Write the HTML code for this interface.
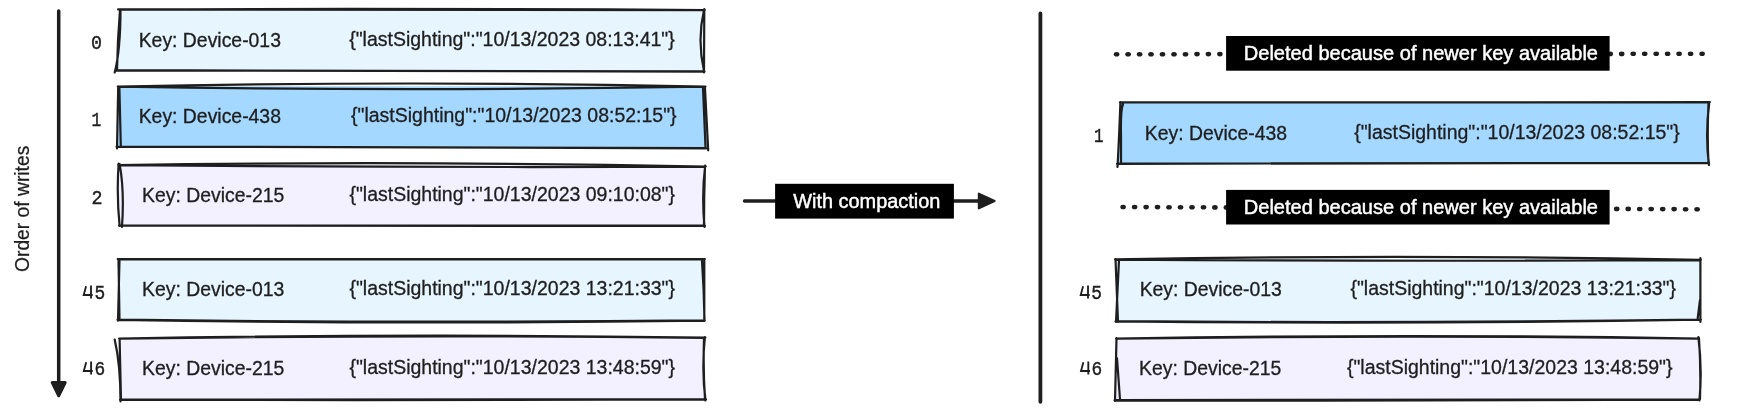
<!DOCTYPE html><html><head><meta charset="utf-8"><style>html,body{margin:0;padding:0;background:#fff;overflow:hidden}svg{display:block;will-change:transform}</style></head><body><svg width="1755" height="411" viewBox="0 0 1755 411">
<style>text{font-family:"Liberation Sans",sans-serif}.m{font-family:"Liberation Mono",monospace}</style>
<rect width="1755" height="411" fill="#ffffff"/>
<path d="M58.7 11 L58.7 384" stroke="#1e1e1e" stroke-width="3.5" stroke-linecap="round" fill="none"/>
<path d="M52.2 382.6 L65.2 382.6 L58.7 395.8 Z" fill="#1e1e1e" stroke="#1e1e1e" stroke-width="3" stroke-linejoin="round"/>
<text transform="translate(29.2,272) rotate(-90)" font-size="20.5" fill="#1e1e1e" stroke="#1e1e1e" stroke-width="0.25" textLength="126.3" lengthAdjust="spacingAndGlyphs">Order of writes</text>
<path d="M118.6 9.4Q411.4 9.2 704.3 10.0L704 71.6Q410.0 71.3 116 70.4Z" fill="#e7f5ff"/>
<path d="M118.1 9.4Q411.4 8.3 704.8 10.0M119.1 9.6Q411.4 10.1 704.3 10.2M115.5 70.4Q410.0 71.0 704.5 71.6M116.5 70.2Q410.0 71.6 704 71.39999999999999M120.5 9.5Q120.5 50 114.7 72.5M120 10Q117.5 40 117 70.5M704.3 9L704 72.5M704 10Q697 40 704 71" fill="none" stroke="#1e1e1e" stroke-width="2.2" stroke-linecap="round" stroke-linejoin="round"/>
<text class="t" x="138.70" y="46.9" font-size="19.3" fill="#1e1e1e" stroke="#1e1e1e" stroke-width="0.3" textLength="142.25" lengthAdjust="spacingAndGlyphs">Key: Device-013</text>
<text class="t" x="349.20" y="46.0" font-size="19.3" fill="#1e1e1e" stroke="#1e1e1e" stroke-width="0.3" textLength="325.60" lengthAdjust="spacingAndGlyphs">{&quot;lastSighting&quot;:&quot;10/13/2023 08:13:41&quot;}</text>
<text class="m" x="91.10" y="48.9" font-size="20.8" stroke="#1e1e1e" stroke-width="0.45" fill="#1e1e1e" textLength="11.00" lengthAdjust="spacingAndGlyphs">0</text>
<path d="M118.2 86.5Q411.6 86.0 705 86.5L706 148.3Q411.5 147.0 117 146.8Z" fill="#a5d8ff"/>
<path d="M117.7 86.5Q411.6 80.5 705.5 86.5M118.7 86.7Q411.6 91.5 705 86.7M116.5 146.8Q411.5 146.4 706.5 148.3M117.5 146.60000000000002Q411.5 147.6 706 148.10000000000002M118.2 86.3L117 148.5M119.4 88L120.8 145.5M704.9 86.7L708.2 150.3M703 88L705.5 147" fill="none" stroke="#1e1e1e" stroke-width="2.2" stroke-linecap="round" stroke-linejoin="round"/>
<text class="t" x="138.70" y="122.6" font-size="19.3" fill="#1e1e1e" stroke="#1e1e1e" stroke-width="0.3" textLength="142.25" lengthAdjust="spacingAndGlyphs">Key: Device-438</text>
<text class="t" x="351.00" y="121.9" font-size="19.3" fill="#1e1e1e" stroke="#1e1e1e" stroke-width="0.3" textLength="325.60" lengthAdjust="spacingAndGlyphs">{&quot;lastSighting&quot;:&quot;10/13/2023 08:52:15&quot;}</text>
<text class="m" x="91.40" y="125.8" font-size="20.8" stroke="#1e1e1e" stroke-width="0.45" fill="#1e1e1e" textLength="9.80" lengthAdjust="spacingAndGlyphs">1</text>
<path d="M118.6 165Q411.9 164.2 705.2 166.5L704.5 225.9Q412.1 226.1 119.6 225.7Z" fill="#f3f0ff"/>
<path d="M118.1 165Q411.9 160.8 705.7 166.5M119.1 165.2Q411.9 167.8 705.2 166.7M119.1 225.7Q412.1 225.8 705.0 225.9M120.1 225.5Q412.1 226.4 704.5 225.70000000000002M118.6 163.7Q116.5 195 119.6 225.9M119.6 164Q124.5 190 122 227M705.2 165.5Q701.5 195 704.5 227M705 166Q704 196 704 226" fill="none" stroke="#1e1e1e" stroke-width="2.2" stroke-linecap="round" stroke-linejoin="round"/>
<text class="t" x="142.05" y="201.9" font-size="19.3" fill="#1e1e1e" stroke="#1e1e1e" stroke-width="0.3" textLength="142.25" lengthAdjust="spacingAndGlyphs">Key: Device-215</text>
<text class="t" x="349.40" y="200.8" font-size="19.3" fill="#1e1e1e" stroke="#1e1e1e" stroke-width="0.3" textLength="325.60" lengthAdjust="spacingAndGlyphs">{&quot;lastSighting&quot;:&quot;10/13/2023 09:10:08&quot;}</text>
<text class="m" x="91.40" y="203.8" font-size="20.8" stroke="#1e1e1e" stroke-width="0.45" fill="#1e1e1e" textLength="11.00" lengthAdjust="spacingAndGlyphs">2</text>
<path d="M118.2 259.1Q411.2 259.4 704.3 259.2L704.3 320.6Q411.1 324.0 118 319.8Z" fill="#e7f5ff"/>
<path d="M117.7 259.1Q411.2 259.1 704.8 259.2M118.7 259.3Q411.2 259.8 704.3 259.4M117.5 319.8Q411.1 324.6 704.8 320.6M118.5 319.6Q411.1 323.4 704.3 320.40000000000003M119.5 259.5L118 320.7M118.5 260L119.5 320M704.3 259L704.3 321M702 261Q704 290 704.5 320" fill="none" stroke="#1e1e1e" stroke-width="2.2" stroke-linecap="round" stroke-linejoin="round"/>
<text class="t" x="142.05" y="295.9" font-size="19.3" fill="#1e1e1e" stroke="#1e1e1e" stroke-width="0.3" textLength="142.25" lengthAdjust="spacingAndGlyphs">Key: Device-013</text>
<text class="t" x="349.40" y="294.8" font-size="19.3" fill="#1e1e1e" stroke="#1e1e1e" stroke-width="0.3" textLength="325.60" lengthAdjust="spacingAndGlyphs">{&quot;lastSighting&quot;:&quot;10/13/2023 13:21:33&quot;}</text>
<path d="M86.1 286.3L83.7 295.0L92.7 295.0M91.0 285.5L91.0 298.4" fill="none" stroke="#1e1e1e" stroke-width="1.85" stroke-linecap="butt" stroke-linejoin="miter"/>
<text class="m" x="94.40" y="298.9" font-size="20.8" stroke="#1e1e1e" stroke-width="0.45" fill="#1e1e1e" textLength="10.70" lengthAdjust="spacingAndGlyphs">5</text>
<path d="M119.6 338.5Q412.2 333.9 704.9 337.6L705.5 399.4Q413.0 400.3 120.5 399.8Z" fill="#f3f0ff"/>
<path d="M119.1 338.5Q412.2 333.4 705.4 337.6M120.1 338.7Q412.2 334.4 704.9 337.8M120.0 399.8Q413.0 400.6 706.0 399.4M121.0 399.6Q413.0 400.0 705.5 399.2M114.7 339.6Q120.5 365 120.5 401.5M119.6 339L121 400M704.9 337Q701.5 370 705.5 400.5M704 338Q703 370 705 399" fill="none" stroke="#1e1e1e" stroke-width="2.2" stroke-linecap="round" stroke-linejoin="round"/>
<text class="t" x="142.05" y="374.6" font-size="19.3" fill="#1e1e1e" stroke="#1e1e1e" stroke-width="0.3" textLength="142.25" lengthAdjust="spacingAndGlyphs">Key: Device-215</text>
<text class="t" x="349.40" y="373.9" font-size="19.3" fill="#1e1e1e" stroke="#1e1e1e" stroke-width="0.3" textLength="325.60" lengthAdjust="spacingAndGlyphs">{&quot;lastSighting&quot;:&quot;10/13/2023 13:48:59&quot;}</text>
<path d="M86.2 362.3L83.8 371.0L92.8 371.0M91.1 361.5L91.1 374.4" fill="none" stroke="#1e1e1e" stroke-width="1.85" stroke-linecap="butt" stroke-linejoin="miter"/>
<text class="m" x="94.40" y="374.9" font-size="20.8" stroke="#1e1e1e" stroke-width="0.45" fill="#1e1e1e" textLength="10.70" lengthAdjust="spacingAndGlyphs">6</text>
<path d="M1120.4 102.3Q1414.8 102.5 1709.3 102.2L1708.7 163.0Q1413.1 163.7 1117.5 163.8Z" fill="#a5d8ff"/>
<path d="M1119.9 102.3Q1414.8 102.2 1709.8 102.2M1120.9 102.5Q1414.8 102.8 1709.3 102.4M1117.0 163.8Q1413.1 163.4 1709.2 163.0M1118.0 163.60000000000002Q1413.1 164.0 1708.7 162.8M1120.4 102Q1119.5 130 1117.5 167M1123 104Q1120.5 110 1121 135L1121 163.5M1709.3 102Q1705 135 1709 165M1708.5 103Q1707 135 1708.5 163" fill="none" stroke="#1e1e1e" stroke-width="2.2" stroke-linecap="round" stroke-linejoin="round"/>
<text class="t" x="1144.75" y="139.6" font-size="19.3" fill="#1e1e1e" stroke="#1e1e1e" stroke-width="0.3" textLength="142.25" lengthAdjust="spacingAndGlyphs">Key: Device-438</text>
<text class="t" x="1354.20" y="138.7" font-size="19.3" fill="#1e1e1e" stroke="#1e1e1e" stroke-width="0.3" textLength="325.60" lengthAdjust="spacingAndGlyphs">{&quot;lastSighting&quot;:&quot;10/13/2023 08:52:15&quot;}</text>
<text class="m" x="1094.10" y="141.9" font-size="20.8" stroke="#1e1e1e" stroke-width="0.45" fill="#1e1e1e" textLength="9.50" lengthAdjust="spacingAndGlyphs">1</text>
<path d="M1115.5 259.4Q1408.0 257.8 1700.4 259.9L1700.4 319.7Q1408.2 324.0 1116 321.4Z" fill="#e7f5ff"/>
<path d="M1115.0 259.4Q1408.0 254.0 1700.9 259.9M1116.0 259.59999999999997Q1408.0 261.6 1700.4 260.09999999999997M1115.5 321.4Q1408.2 324.5 1700.9 319.7M1116.5 321.2Q1408.2 323.5 1700.4 319.5M1115.5 259L1118 322M1119 260L1116 322M1700.4 258L1700.4 322M1700 300L1697.5 320" fill="none" stroke="#1e1e1e" stroke-width="2.2" stroke-linecap="round" stroke-linejoin="round"/>
<text class="t" x="1139.65" y="295.9" font-size="19.3" fill="#1e1e1e" stroke="#1e1e1e" stroke-width="0.3" textLength="142.25" lengthAdjust="spacingAndGlyphs">Key: Device-013</text>
<text class="t" x="1350.40" y="294.8" font-size="19.3" fill="#1e1e1e" stroke="#1e1e1e" stroke-width="0.3" textLength="325.60" lengthAdjust="spacingAndGlyphs">{&quot;lastSighting&quot;:&quot;10/13/2023 13:21:33&quot;}</text>
<path d="M1083.1 286.3L1080.7 295.0L1089.7 295.0M1088.0 285.5L1088.0 298.4" fill="none" stroke="#1e1e1e" stroke-width="1.85" stroke-linecap="butt" stroke-linejoin="miter"/>
<text class="m" x="1091.30" y="298.9" font-size="20.8" stroke="#1e1e1e" stroke-width="0.45" fill="#1e1e1e" textLength="10.70" lengthAdjust="spacingAndGlyphs">5</text>
<path d="M1116.5 338.5Q1407.5 334.0 1698.4 338.5L1699.4 399.6Q1407.2 400.8 1115 400.3Z" fill="#f3f0ff"/>
<path d="M1116.0 338.5Q1407.5 333.5 1698.9 338.5M1117.0 338.7Q1407.5 334.5 1698.4 338.7M1114.5 400.3Q1407.2 401.2 1699.9 399.6M1115.5 400.1Q1407.2 400.4 1699.4 399.40000000000003M1116.5 338L1115 401M1117 358L1120 399.5M1698.4 337Q1702.5 370 1699.4 400.5M1699 338Q1701 370 1700 399" fill="none" stroke="#1e1e1e" stroke-width="2.2" stroke-linecap="round" stroke-linejoin="round"/>
<text class="t" x="1139.05" y="374.6" font-size="19.3" fill="#1e1e1e" stroke="#1e1e1e" stroke-width="0.3" textLength="142.25" lengthAdjust="spacingAndGlyphs">Key: Device-215</text>
<text class="t" x="1346.90" y="373.9" font-size="19.3" fill="#1e1e1e" stroke="#1e1e1e" stroke-width="0.3" textLength="325.60" lengthAdjust="spacingAndGlyphs">{&quot;lastSighting&quot;:&quot;10/13/2023 13:48:59&quot;}</text>
<path d="M1083.4 362.3L1081.0 371.0L1090.0 371.0M1088.3 361.5L1088.3 374.4" fill="none" stroke="#1e1e1e" stroke-width="1.85" stroke-linecap="butt" stroke-linejoin="miter"/>
<text class="m" x="1091.60" y="374.9" font-size="20.8" stroke="#1e1e1e" stroke-width="0.45" fill="#1e1e1e" textLength="10.70" lengthAdjust="spacingAndGlyphs">6</text>
<path d="M744.5 201 L980 201" stroke="#1e1e1e" stroke-width="3.4" stroke-linecap="round"/>
<path d="M978.8 193.6 L994.6 201 L978.8 208.4 Z" fill="#1e1e1e" stroke="#1e1e1e" stroke-width="2" stroke-linejoin="round"/>
<rect x="775.1" y="183.8" width="178.8" height="34.8" fill="#000"/>
<text class="t" x="793.20" y="207.6" font-size="20" fill="#fff" stroke="#fff" stroke-width="0.45" textLength="147.20" lengthAdjust="spacingAndGlyphs">With compaction</text>
<path d="M1040.4 13.4 L1040.4 401.8" stroke="#1e1e1e" stroke-width="3.8" stroke-linecap="round"/>
<ellipse cx="1116.6" cy="54.2" rx="2.8" ry="2.3" fill="#1e1e1e"/><ellipse cx="1128.1" cy="54.2" rx="2.8" ry="2.3" fill="#1e1e1e"/><ellipse cx="1139.6" cy="54.2" rx="2.8" ry="2.3" fill="#1e1e1e"/><ellipse cx="1151.0" cy="54.2" rx="2.8" ry="2.3" fill="#1e1e1e"/><ellipse cx="1162.5" cy="54.2" rx="2.8" ry="2.3" fill="#1e1e1e"/><ellipse cx="1174.0" cy="54.2" rx="2.8" ry="2.3" fill="#1e1e1e"/><ellipse cx="1185.5" cy="54.2" rx="2.8" ry="2.3" fill="#1e1e1e"/><ellipse cx="1197.0" cy="54.1" rx="2.8" ry="2.3" fill="#1e1e1e"/><ellipse cx="1208.4" cy="54.1" rx="2.8" ry="2.3" fill="#1e1e1e"/><ellipse cx="1219.9" cy="54.1" rx="2.8" ry="2.3" fill="#1e1e1e"/><ellipse cx="1231.4" cy="54.1" rx="2.8" ry="2.3" fill="#1e1e1e"/><ellipse cx="1242.9" cy="54.1" rx="2.8" ry="2.3" fill="#1e1e1e"/><ellipse cx="1254.4" cy="54.1" rx="2.8" ry="2.3" fill="#1e1e1e"/><ellipse cx="1265.8" cy="54.1" rx="2.8" ry="2.3" fill="#1e1e1e"/><ellipse cx="1277.3" cy="54.1" rx="2.8" ry="2.3" fill="#1e1e1e"/><ellipse cx="1288.8" cy="54.1" rx="2.8" ry="2.3" fill="#1e1e1e"/><ellipse cx="1300.3" cy="54.1" rx="2.8" ry="2.3" fill="#1e1e1e"/><ellipse cx="1311.8" cy="54.1" rx="2.8" ry="2.3" fill="#1e1e1e"/><ellipse cx="1323.2" cy="54.1" rx="2.8" ry="2.3" fill="#1e1e1e"/><ellipse cx="1334.7" cy="54.1" rx="2.8" ry="2.3" fill="#1e1e1e"/><ellipse cx="1346.2" cy="54.0" rx="2.8" ry="2.3" fill="#1e1e1e"/><ellipse cx="1357.7" cy="54.0" rx="2.8" ry="2.3" fill="#1e1e1e"/><ellipse cx="1369.2" cy="54.0" rx="2.8" ry="2.3" fill="#1e1e1e"/><ellipse cx="1380.6" cy="54.0" rx="2.8" ry="2.3" fill="#1e1e1e"/><ellipse cx="1392.1" cy="54.0" rx="2.8" ry="2.3" fill="#1e1e1e"/><ellipse cx="1403.6" cy="54.0" rx="2.8" ry="2.3" fill="#1e1e1e"/><ellipse cx="1415.1" cy="54.0" rx="2.8" ry="2.3" fill="#1e1e1e"/><ellipse cx="1426.6" cy="54.0" rx="2.8" ry="2.3" fill="#1e1e1e"/><ellipse cx="1438.0" cy="54.0" rx="2.8" ry="2.3" fill="#1e1e1e"/><ellipse cx="1449.5" cy="54.0" rx="2.8" ry="2.3" fill="#1e1e1e"/><ellipse cx="1461.0" cy="54.0" rx="2.8" ry="2.3" fill="#1e1e1e"/><ellipse cx="1472.5" cy="54.0" rx="2.8" ry="2.3" fill="#1e1e1e"/><ellipse cx="1484.0" cy="53.9" rx="2.8" ry="2.3" fill="#1e1e1e"/><ellipse cx="1495.4" cy="53.9" rx="2.8" ry="2.3" fill="#1e1e1e"/><ellipse cx="1506.9" cy="53.9" rx="2.8" ry="2.3" fill="#1e1e1e"/><ellipse cx="1518.4" cy="53.9" rx="2.8" ry="2.3" fill="#1e1e1e"/><ellipse cx="1529.9" cy="53.9" rx="2.8" ry="2.3" fill="#1e1e1e"/><ellipse cx="1541.4" cy="53.9" rx="2.8" ry="2.3" fill="#1e1e1e"/><ellipse cx="1552.8" cy="53.9" rx="2.8" ry="2.3" fill="#1e1e1e"/><ellipse cx="1564.3" cy="53.9" rx="2.8" ry="2.3" fill="#1e1e1e"/><ellipse cx="1575.8" cy="53.9" rx="2.8" ry="2.3" fill="#1e1e1e"/><ellipse cx="1587.3" cy="53.9" rx="2.8" ry="2.3" fill="#1e1e1e"/><ellipse cx="1598.8" cy="53.9" rx="2.8" ry="2.3" fill="#1e1e1e"/><ellipse cx="1610.2" cy="53.9" rx="2.8" ry="2.3" fill="#1e1e1e"/><ellipse cx="1621.7" cy="53.9" rx="2.8" ry="2.3" fill="#1e1e1e"/><ellipse cx="1633.2" cy="53.8" rx="2.8" ry="2.3" fill="#1e1e1e"/><ellipse cx="1644.7" cy="53.8" rx="2.8" ry="2.3" fill="#1e1e1e"/><ellipse cx="1656.2" cy="53.8" rx="2.8" ry="2.3" fill="#1e1e1e"/><ellipse cx="1667.6" cy="53.8" rx="2.8" ry="2.3" fill="#1e1e1e"/><ellipse cx="1679.1" cy="53.8" rx="2.8" ry="2.3" fill="#1e1e1e"/><ellipse cx="1690.6" cy="53.8" rx="2.8" ry="2.3" fill="#1e1e1e"/><ellipse cx="1702.1" cy="53.8" rx="2.8" ry="2.3" fill="#1e1e1e"/>
<ellipse cx="1123.1" cy="207.0" rx="2.8" ry="2.3" fill="#1e1e1e"/><ellipse cx="1134.6" cy="207.0" rx="2.8" ry="2.3" fill="#1e1e1e"/><ellipse cx="1146.1" cy="207.1" rx="2.8" ry="2.3" fill="#1e1e1e"/><ellipse cx="1157.5" cy="207.1" rx="2.8" ry="2.3" fill="#1e1e1e"/><ellipse cx="1169.0" cy="207.2" rx="2.8" ry="2.3" fill="#1e1e1e"/><ellipse cx="1180.5" cy="207.2" rx="2.8" ry="2.3" fill="#1e1e1e"/><ellipse cx="1192.0" cy="207.3" rx="2.8" ry="2.3" fill="#1e1e1e"/><ellipse cx="1203.5" cy="207.3" rx="2.8" ry="2.3" fill="#1e1e1e"/><ellipse cx="1214.9" cy="207.4" rx="2.8" ry="2.3" fill="#1e1e1e"/><ellipse cx="1226.4" cy="207.4" rx="2.8" ry="2.3" fill="#1e1e1e"/><ellipse cx="1237.9" cy="207.4" rx="2.8" ry="2.3" fill="#1e1e1e"/><ellipse cx="1249.4" cy="207.5" rx="2.8" ry="2.3" fill="#1e1e1e"/><ellipse cx="1260.9" cy="207.5" rx="2.8" ry="2.3" fill="#1e1e1e"/><ellipse cx="1272.3" cy="207.6" rx="2.8" ry="2.3" fill="#1e1e1e"/><ellipse cx="1283.8" cy="207.6" rx="2.8" ry="2.3" fill="#1e1e1e"/><ellipse cx="1295.3" cy="207.7" rx="2.8" ry="2.3" fill="#1e1e1e"/><ellipse cx="1306.8" cy="207.7" rx="2.8" ry="2.3" fill="#1e1e1e"/><ellipse cx="1318.3" cy="207.7" rx="2.8" ry="2.3" fill="#1e1e1e"/><ellipse cx="1329.7" cy="207.8" rx="2.8" ry="2.3" fill="#1e1e1e"/><ellipse cx="1341.2" cy="207.8" rx="2.8" ry="2.3" fill="#1e1e1e"/><ellipse cx="1352.7" cy="207.9" rx="2.8" ry="2.3" fill="#1e1e1e"/><ellipse cx="1364.2" cy="207.9" rx="2.8" ry="2.3" fill="#1e1e1e"/><ellipse cx="1375.7" cy="208.0" rx="2.8" ry="2.3" fill="#1e1e1e"/><ellipse cx="1387.1" cy="208.0" rx="2.8" ry="2.3" fill="#1e1e1e"/><ellipse cx="1398.6" cy="208.1" rx="2.8" ry="2.3" fill="#1e1e1e"/><ellipse cx="1410.1" cy="208.1" rx="2.8" ry="2.3" fill="#1e1e1e"/><ellipse cx="1421.6" cy="208.1" rx="2.8" ry="2.3" fill="#1e1e1e"/><ellipse cx="1433.1" cy="208.2" rx="2.8" ry="2.3" fill="#1e1e1e"/><ellipse cx="1444.5" cy="208.2" rx="2.8" ry="2.3" fill="#1e1e1e"/><ellipse cx="1456.0" cy="208.3" rx="2.8" ry="2.3" fill="#1e1e1e"/><ellipse cx="1467.5" cy="208.3" rx="2.8" ry="2.3" fill="#1e1e1e"/><ellipse cx="1479.0" cy="208.4" rx="2.8" ry="2.3" fill="#1e1e1e"/><ellipse cx="1490.5" cy="208.4" rx="2.8" ry="2.3" fill="#1e1e1e"/><ellipse cx="1501.9" cy="208.5" rx="2.8" ry="2.3" fill="#1e1e1e"/><ellipse cx="1513.4" cy="208.5" rx="2.8" ry="2.3" fill="#1e1e1e"/><ellipse cx="1524.9" cy="208.5" rx="2.8" ry="2.3" fill="#1e1e1e"/><ellipse cx="1536.4" cy="208.6" rx="2.8" ry="2.3" fill="#1e1e1e"/><ellipse cx="1547.9" cy="208.6" rx="2.8" ry="2.3" fill="#1e1e1e"/><ellipse cx="1559.3" cy="208.7" rx="2.8" ry="2.3" fill="#1e1e1e"/><ellipse cx="1570.8" cy="208.7" rx="2.8" ry="2.3" fill="#1e1e1e"/><ellipse cx="1582.3" cy="208.8" rx="2.8" ry="2.3" fill="#1e1e1e"/><ellipse cx="1593.8" cy="208.8" rx="2.8" ry="2.3" fill="#1e1e1e"/><ellipse cx="1605.3" cy="208.8" rx="2.8" ry="2.3" fill="#1e1e1e"/><ellipse cx="1616.7" cy="208.9" rx="2.8" ry="2.3" fill="#1e1e1e"/><ellipse cx="1628.2" cy="208.9" rx="2.8" ry="2.3" fill="#1e1e1e"/><ellipse cx="1639.7" cy="209.0" rx="2.8" ry="2.3" fill="#1e1e1e"/><ellipse cx="1651.2" cy="209.0" rx="2.8" ry="2.3" fill="#1e1e1e"/><ellipse cx="1662.7" cy="209.1" rx="2.8" ry="2.3" fill="#1e1e1e"/><ellipse cx="1674.1" cy="209.1" rx="2.8" ry="2.3" fill="#1e1e1e"/><ellipse cx="1685.6" cy="209.2" rx="2.8" ry="2.3" fill="#1e1e1e"/><ellipse cx="1697.1" cy="209.2" rx="2.8" ry="2.3" fill="#1e1e1e"/>
<rect x="1226.1" y="36" width="383.5" height="34.7" fill="#000"/>
<text class="t" x="1243.80" y="60" font-size="20" fill="#fff" stroke="#fff" stroke-width="0.45" textLength="354.20" lengthAdjust="spacingAndGlyphs">Deleted because of newer key available</text>
<rect x="1226.1" y="189.9" width="383.5" height="34.6" fill="#000"/>
<text class="t" x="1243.80" y="213.6" font-size="20" fill="#fff" stroke="#fff" stroke-width="0.45" textLength="354.20" lengthAdjust="spacingAndGlyphs">Deleted because of newer key available</text>
</svg></body></html>
